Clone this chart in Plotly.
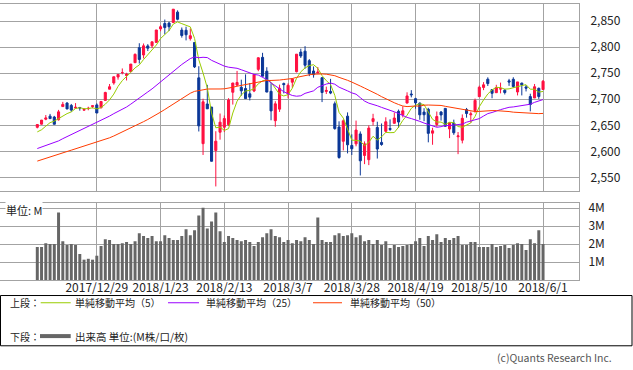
import numpy as np
import plotly.graph_objects as go

# ---------------- data ----------------
dates = [
    "2017/12/8", "2017/12/11", "2017/12/12", "2017/12/13", "2017/12/14", "2017/12/15", "2017/12/18",
    "2017/12/19", "2017/12/20", "2017/12/21", "2017/12/22", "2017/12/26", "2017/12/27", "2017/12/28",
    "2017/12/29",
    "2018/1/2", "2018/1/3", "2018/1/4", "2018/1/5", "2018/1/8", "2018/1/9", "2018/1/10", "2018/1/11",
    "2018/1/12", "2018/1/16", "2018/1/17", "2018/1/18", "2018/1/19", "2018/1/22", "2018/1/23",
    "2018/1/24", "2018/1/25", "2018/1/26", "2018/1/29", "2018/1/30", "2018/1/31",
    "2018/2/1", "2018/2/2", "2018/2/5", "2018/2/6", "2018/2/7", "2018/2/8", "2018/2/9", "2018/2/12",
    "2018/2/13", "2018/2/14", "2018/2/15", "2018/2/16", "2018/2/20", "2018/2/21", "2018/2/22",
    "2018/2/23", "2018/2/26", "2018/2/27", "2018/2/28",
    "2018/3/1", "2018/3/2", "2018/3/5", "2018/3/6", "2018/3/7", "2018/3/8", "2018/3/9", "2018/3/12",
    "2018/3/13", "2018/3/14", "2018/3/15", "2018/3/16", "2018/3/19", "2018/3/20", "2018/3/21",
    "2018/3/22", "2018/3/23", "2018/3/26", "2018/3/27", "2018/3/28", "2018/3/29",
    "2018/4/2", "2018/4/3", "2018/4/4", "2018/4/5", "2018/4/6", "2018/4/9", "2018/4/10", "2018/4/11",
    "2018/4/12", "2018/4/13", "2018/4/16", "2018/4/17", "2018/4/18", "2018/4/19", "2018/4/20",
    "2018/4/23", "2018/4/24", "2018/4/25", "2018/4/26", "2018/4/27", "2018/4/30",
    "2018/5/1", "2018/5/2", "2018/5/3", "2018/5/4", "2018/5/7", "2018/5/8", "2018/5/9", "2018/5/10",
    "2018/5/11", "2018/5/14", "2018/5/15", "2018/5/16", "2018/5/17", "2018/5/18", "2018/5/21",
    "2018/5/22", "2018/5/23", "2018/5/24", "2018/5/25", "2018/5/29", "2018/5/30", "2018/5/31",
    "2018/6/1",
]

opens = [
    2646.21, 2652.19, 2661.73, 2667.59, 2665.87, 2660.63, 2685.92, 2692.71, 2688.18, 2683.02, 2684.22,
    2679.09, 2682.10, 2686.10, 2689.15,
    2683.73, 2697.85, 2719.31, 2731.33, 2742.67, 2751.15, 2745.55, 2752.97, 2770.18, 2798.96, 2784.99,
    2802.40, 2802.60, 2809.16, 2835.05, 2845.42, 2846.24, 2847.48, 2867.23, 2832.74, 2832.41,
    2816.45, 2808.92, 2741.06, 2614.78, 2690.95, 2685.01, 2601.78, 2636.75, 2646.27, 2651.21, 2713.46,
    2727.14, 2722.99, 2720.53, 2710.42, 2715.80, 2757.37, 2780.45, 2753.78,
    2715.22, 2658.89, 2681.06, 2730.18, 2710.18, 2732.75, 2752.91, 2790.54, 2792.31, 2774.06, 2754.27,
    2750.57, 2741.38, 2715.05, 2714.99, 2691.36, 2646.71, 2619.35, 2667.57, 2611.30, 2614.41,
    2633.45, 2592.17, 2584.04, 2657.36, 2645.82, 2617.18, 2638.41, 2643.89, 2653.83, 2676.90, 2670.10,
    2692.74, 2710.11, 2701.16, 2692.56, 2675.40, 2680.80, 2634.92, 2651.65, 2675.47, 2682.51,
    2642.96, 2654.24, 2628.08, 2621.45, 2680.34, 2670.26, 2678.12, 2705.02, 2722.70, 2738.47, 2718.59,
    2712.62, 2719.71, 2717.35, 2735.39, 2738.34, 2713.98, 2730.94, 2723.60, 2705.11, 2702.43, 2720.98,
    2718.70,
]

highs = [
    2651.65, 2660.33, 2669.72, 2671.88, 2668.09, 2679.63, 2694.97, 2694.44, 2691.01, 2692.64, 2685.35,
    2682.74, 2685.64, 2687.66, 2692.12,
    2695.89, 2714.37, 2729.29, 2743.45, 2748.51, 2759.14, 2750.80, 2767.56, 2787.85, 2807.54, 2807.04,
    2805.83, 2810.33, 2833.03, 2842.24, 2852.97, 2848.56, 2872.87, 2870.62, 2837.75, 2839.26,
    2835.96, 2808.92, 2763.39, 2701.04, 2727.67, 2685.27, 2638.67, 2672.61, 2668.84, 2702.10, 2731.51,
    2754.42, 2737.60, 2747.75, 2731.26, 2747.76, 2780.64, 2789.15, 2761.52,
    2730.89, 2696.25, 2728.09, 2732.08, 2730.60, 2740.45, 2786.57, 2796.98, 2801.90, 2777.11, 2763.03,
    2761.85, 2741.38, 2724.22, 2739.14, 2695.68, 2657.67, 2661.36, 2674.78, 2632.65, 2659.07,
    2638.30, 2619.14, 2649.86, 2672.08, 2656.88, 2653.55, 2665.45, 2661.43, 2674.72, 2680.26, 2686.49,
    2713.34, 2717.49, 2702.84, 2693.94, 2682.86, 2683.55, 2645.30, 2676.48, 2677.35, 2682.87,
    2655.27, 2660.87, 2637.14, 2670.93, 2683.35, 2676.34, 2701.27, 2726.11, 2732.86, 2742.10, 2718.59,
    2727.76, 2731.96, 2719.50, 2739.19, 2742.24, 2733.33, 2731.97, 2727.36, 2710.67, 2729.34, 2722.50,
    2736.93,
]

lows = [
    2644.10, 2651.47, 2659.78, 2662.85, 2652.01, 2659.14, 2685.92, 2680.74, 2676.11, 2682.40, 2678.13,
    2677.96, 2678.91, 2682.69, 2673.61,
    2682.36, 2697.77, 2719.07, 2727.92, 2737.60, 2747.86, 2736.06, 2752.78, 2769.64, 2768.64, 2778.38,
    2792.56, 2798.08, 2808.12, 2830.59, 2824.81, 2830.94, 2846.18, 2851.48, 2818.27, 2813.04,
    2812.70, 2759.97, 2638.17, 2593.07, 2681.33, 2580.56, 2532.69, 2622.45, 2637.08, 2648.87, 2689.82,
    2725.11, 2706.76, 2701.29, 2697.77, 2713.74, 2753.78, 2744.22, 2713.54,
    2659.65, 2647.32, 2675.75, 2711.26, 2701.74, 2721.92, 2751.54, 2779.26, 2758.68, 2744.38, 2741.47,
    2749.97, 2694.59, 2710.05, 2709.79, 2641.59, 2585.89, 2601.81, 2596.12, 2593.06, 2609.72,
    2553.80, 2575.49, 2573.61, 2649.58, 2586.27, 2610.79, 2635.78, 2639.25, 2653.83, 2645.05, 2665.16,
    2692.05, 2703.63, 2681.90, 2660.61, 2657.99, 2617.32, 2612.67, 2647.16, 2659.01, 2648.04,
    2625.41, 2631.70, 2594.62, 2615.32, 2664.70, 2655.20, 2674.14, 2704.54, 2717.45, 2725.47, 2701.91,
    2712.17, 2711.36, 2709.18, 2725.70, 2721.88, 2707.38, 2707.38, 2714.99, 2676.81, 2702.43, 2700.68,
    2718.70,
]

closes = [
    2651.50, 2659.99, 2664.11, 2662.85, 2652.01, 2675.81, 2690.16, 2681.47, 2679.25, 2684.57, 2683.34,
    2680.50, 2682.62, 2687.54, 2673.61,
    2695.81, 2713.06, 2723.99, 2743.15, 2747.71, 2751.29, 2748.23, 2767.56, 2786.24, 2776.42, 2802.56,
    2798.03, 2810.30, 2832.97, 2839.13, 2837.54, 2839.25, 2872.87, 2853.53, 2822.43, 2823.81,
    2821.98, 2762.13, 2648.94, 2695.14, 2681.66, 2581.00, 2619.55, 2656.00, 2662.94, 2698.63, 2731.20,
    2732.22, 2716.26, 2701.33, 2703.96, 2747.30, 2779.60, 2744.28, 2713.83,
    2677.67, 2691.25, 2720.94, 2728.12, 2726.80, 2738.97, 2786.57, 2783.02, 2765.31, 2749.48, 2747.33,
    2752.01, 2712.92, 2716.94, 2711.93, 2643.69, 2588.26, 2658.55, 2612.62, 2605.00, 2640.87,
    2581.88, 2614.45, 2644.69, 2662.84, 2604.47, 2613.16, 2656.87, 2642.19, 2663.99, 2656.30, 2677.84,
    2706.39, 2708.64, 2693.13, 2670.14, 2670.29, 2634.56, 2639.40, 2666.94, 2669.91, 2648.05,
    2654.80, 2635.67, 2629.73, 2663.42, 2672.63, 2671.92, 2697.79, 2723.07, 2727.72, 2730.13, 2711.45,
    2722.46, 2720.13, 2712.97, 2733.01, 2724.44, 2733.29, 2727.76, 2721.33, 2689.86, 2724.01, 2705.27,
    2734.62,
]

# closes of the 49 sessions before the first candle (needed for the moving averages)
prior_closes = [
    2519.36,
    2529.12, 2534.58, 2537.74, 2552.07, 2549.33, 2544.73, 2550.64, 2555.24, 2550.93, 2553.17, 2557.64,
    2559.36, 2561.26, 2562.10, 2575.21, 2564.98, 2569.13, 2557.15, 2560.40, 2581.07, 2572.83, 2575.26,
    2579.36, 2579.85, 2587.84, 2591.13, 2590.64, 2594.38, 2584.62, 2582.30, 2584.84, 2578.87, 2564.62,
    2585.64, 2578.85, 2582.14, 2599.03, 2597.08, 2602.42, 2601.42, 2627.04, 2626.07, 2647.58,
    2642.22, 2639.44, 2629.57, 2629.27, 2636.98,
]

# volume in millions
volume_m = [
    1.84, 1.84, 2.05, 2.00, 2.00, 3.75, 2.16, 1.95, 2.00, 1.95, 1.45, 1.13, 1.18, 1.13, 1.35,
    1.89, 2.27, 2.22, 2.00, 2.00, 2.05, 2.11, 2.00, 2.16, 2.60, 2.44, 2.33, 2.44, 2.16, 2.16,
    2.49, 2.33, 2.22, 2.22, 2.44, 2.82, 2.49, 2.76, 3.58, 4.02, 2.87, 3.25, 3.75, 2.71, 2.11,
    2.44, 2.33, 2.22, 2.16, 2.22, 2.11, 1.89, 2.11, 2.38, 2.60, 2.82, 2.44, 2.38, 2.11, 2.22,
    2.05, 2.22, 2.16, 2.38, 2.22, 2.00, 3.47, 2.22, 2.11, 2.11, 2.49, 2.60, 2.44, 2.49, 2.60,
    2.38, 2.49, 2.16, 2.22, 2.00, 2.22, 1.95, 2.16, 1.78, 1.95, 1.84, 1.89, 1.95, 2.00, 2.16,
    2.33, 1.89, 2.44, 2.22, 2.55, 2.11, 2.33, 2.22, 2.33, 2.44, 1.95, 1.95, 2.11, 2.11, 1.84,
    1.84, 1.84, 2.00, 1.84, 1.89, 1.95, 1.78, 1.95, 2.05, 2.00, 1.67, 2.27, 2.05, 2.76, 2.00,
]

date_tick_labels = ["2017/12/29", "2018/1/23", "2018/2/13", "2018/3/7",
                    "2018/3/28", "2018/4/19", "2018/5/10", "2018/6/1"]
price_ticks = [2550, 2600, 2650, 2700, 2750, 2800, 2850]
volume_ticks = [1, 2, 3, 4]
ma_windows = [5, 25, 50]
ma_names = ["単純移動平均（5）", "単純移動平均（25）", "単純移動平均（50）"]

# ---------------- styles ----------------
W, H = 633, 370
ML, MR, MT, MB = 0, 54, 1, 90
PW = W - ML - MR          # plot width in px
PH = H - MT - MB          # plot height in px
RED = "#ff1040"
BLUE = "#0b3797"
MA_COLORS = ["#99cc00", "#9a00ff", "#ff3b00"]
GRID = "#a3a3a3"
VOLC = "#666666"
FONT = "Noto Sans CJK JP"
TXT = "#222222"


def px_x(x):
    return (x - ML) / PW


def px_y(y):
    return (H - MB - y) / PH


n = len(dates)
xs = list(range(n))
all_closes = np.array(prior_closes + closes, dtype=float)
off = len(prior_closes)


def sma(w):
    return [float(all_closes[off + i - w + 1: off + i + 1].mean()) for i in range(n)]


tickvals = [dates.index(t) for t in date_tick_labels]

# x range: index 0 at px 37.3, spacing 4.25 px per session
x0_px, step_px = 37.3, 4.25
xr = [-x0_px / step_px, (PW - x0_px) / step_px]

fig = go.Figure()
fig.add_trace(go.Candlestick(
    x=xs, open=opens, high=highs, low=lows, close=closes,
    increasing=dict(line=dict(color=RED, width=1), fillcolor=RED),
    decreasing=dict(line=dict(color=BLUE, width=1), fillcolor=BLUE),
    whiskerwidth=0, xaxis="x", yaxis="y", showlegend=False, hoverinfo="skip",
))
for w, c in zip(ma_windows, MA_COLORS):
    fig.add_trace(go.Scatter(x=xs, y=sma(w), mode="lines", line=dict(color=c, width=1),
                             xaxis="x", yaxis="y", showlegend=False, hoverinfo="skip"))
fig.add_trace(go.Bar(x=xs, y=volume_m, marker=dict(color=VOLC, line=dict(width=0)),
                     xaxis="x2", yaxis="y2", showlegend=False, hoverinfo="skip"))

# panel geometry (px)
price_top, price_bot = 1, 190
vol_top, vol_bot = 201.7, 280
price_range = [2550 - (price_bot - 176.3) / 0.5267, 2850 + (18.3 - price_top) / 0.5267]
vol_range = [0, 4 + (207.3 - vol_top) / 18.2]

axis_common = dict(showgrid=True, gridcolor=GRID, gridwidth=1, zeroline=False,
                   showline=True, linecolor=GRID, linewidth=1, ticks="")
fig.update_layout(
    width=W, height=H,
    margin=dict(l=ML, r=MR, t=MT, b=MB, pad=0),
    paper_bgcolor="white", plot_bgcolor="white",
    font=dict(family=FONT, size=12, color=TXT),
    showlegend=False, bargap=0.3, boxgap=0.3,
    xaxis=dict(domain=[0, 1], range=xr, anchor="y", tickvals=tickvals, showticklabels=False,
               mirror=True, rangeslider=dict(visible=False), **axis_common),
    yaxis=dict(domain=[px_y(price_bot), px_y(price_top)], range=price_range, side="right",
               anchor="x", tickvals=price_ticks, ticktext=[f"{v:,}" for v in price_ticks],
               ticklabelstandoff=8, tickfont=dict(size=12, color=TXT), **axis_common),
    xaxis2=dict(domain=[0, 1], range=xr, anchor="y2", tickvals=tickvals,
                ticktext=date_tick_labels, mirror=True, tickfont=dict(size=12, color=TXT),
                ticklabelstandoff=-3, **axis_common),
    yaxis2=dict(domain=[px_y(vol_bot), px_y(vol_top)], range=vol_range, side="right",
                anchor="x2", tickvals=volume_ticks, ticktext=[f"{v}M" for v in volume_ticks],
                ticklabelstandoff=6, tickfont=dict(size=12, color=TXT), **axis_common),
)

shapes = []
annotations = []
# unit label in volume panel
annotations.append(dict(x=px_x(5), y=px_y(209), xref="paper", yref="paper", text="単位: M",
                        showarrow=False, xanchor="left", yanchor="middle", bgcolor="white",
                        borderpad=0, font=dict(size=11, color=TXT)))
# legend box
shapes.append(dict(type="rect", xref="paper", yref="paper", x0=px_x(0.5), x1=px_x(632),
                   y0=px_y(346.5), y1=px_y(295.7), line=dict(color="black", width=1),
                   fillcolor="rgba(0,0,0,0)"))
row1, row2 = 303, 336.7
annotations.append(dict(x=px_x(8), y=px_y(row1), xref="paper", yref="paper", text="上段：",
                        showarrow=False, xanchor="left", yanchor="middle",
                        font=dict(size=10, color=TXT)))
annotations.append(dict(x=px_x(8), y=px_y(row2), xref="paper", yref="paper", text="下段：",
                        showarrow=False, xanchor="left", yanchor="middle",
                        font=dict(size=10, color=TXT)))
leg_x = [(40.7, 70.7, 72.7), (168, 199, 204), (313, 342, 348)]
for (lx0, lx1, tx), c, name in zip(leg_x, MA_COLORS, ma_names):
    shapes.append(dict(type="line", xref="paper", yref="paper", x0=px_x(lx0), x1=px_x(lx1),
                       y0=px_y(row1), y1=px_y(row1), line=dict(color=c, width=1)))
    annotations.append(dict(x=px_x(tx), y=px_y(row1), xref="paper", yref="paper", text=name,
                            showarrow=False, xanchor="left", yanchor="middle",
                            font=dict(size=10, color=TXT)))
shapes.append(dict(type="line", xref="paper", yref="paper", x0=px_x(40), x1=px_x(70.7),
                   y0=px_y(row2), y1=px_y(row2), line=dict(color=VOLC, width=4)))
annotations.append(dict(x=px_x(72.7), y=px_y(row2), xref="paper", yref="paper",
                        text="出来高 単位:(M株/口/枚)", showarrow=False, xanchor="left",
                        yanchor="middle", font=dict(size=10.5, color=TXT)))
annotations.append(dict(x=px_x(614), y=px_y(358), xref="paper", yref="paper",
                        text="(c)Quants Research Inc.", showarrow=False, xanchor="right",
                        yanchor="middle", font=dict(size=10.5, color="#555555")))
fig.update_layout(shapes=shapes, annotations=annotations)

fig.write_html("out.html", config={"displayModeBar": False},
               post_script="document.body.style.margin='0';")
